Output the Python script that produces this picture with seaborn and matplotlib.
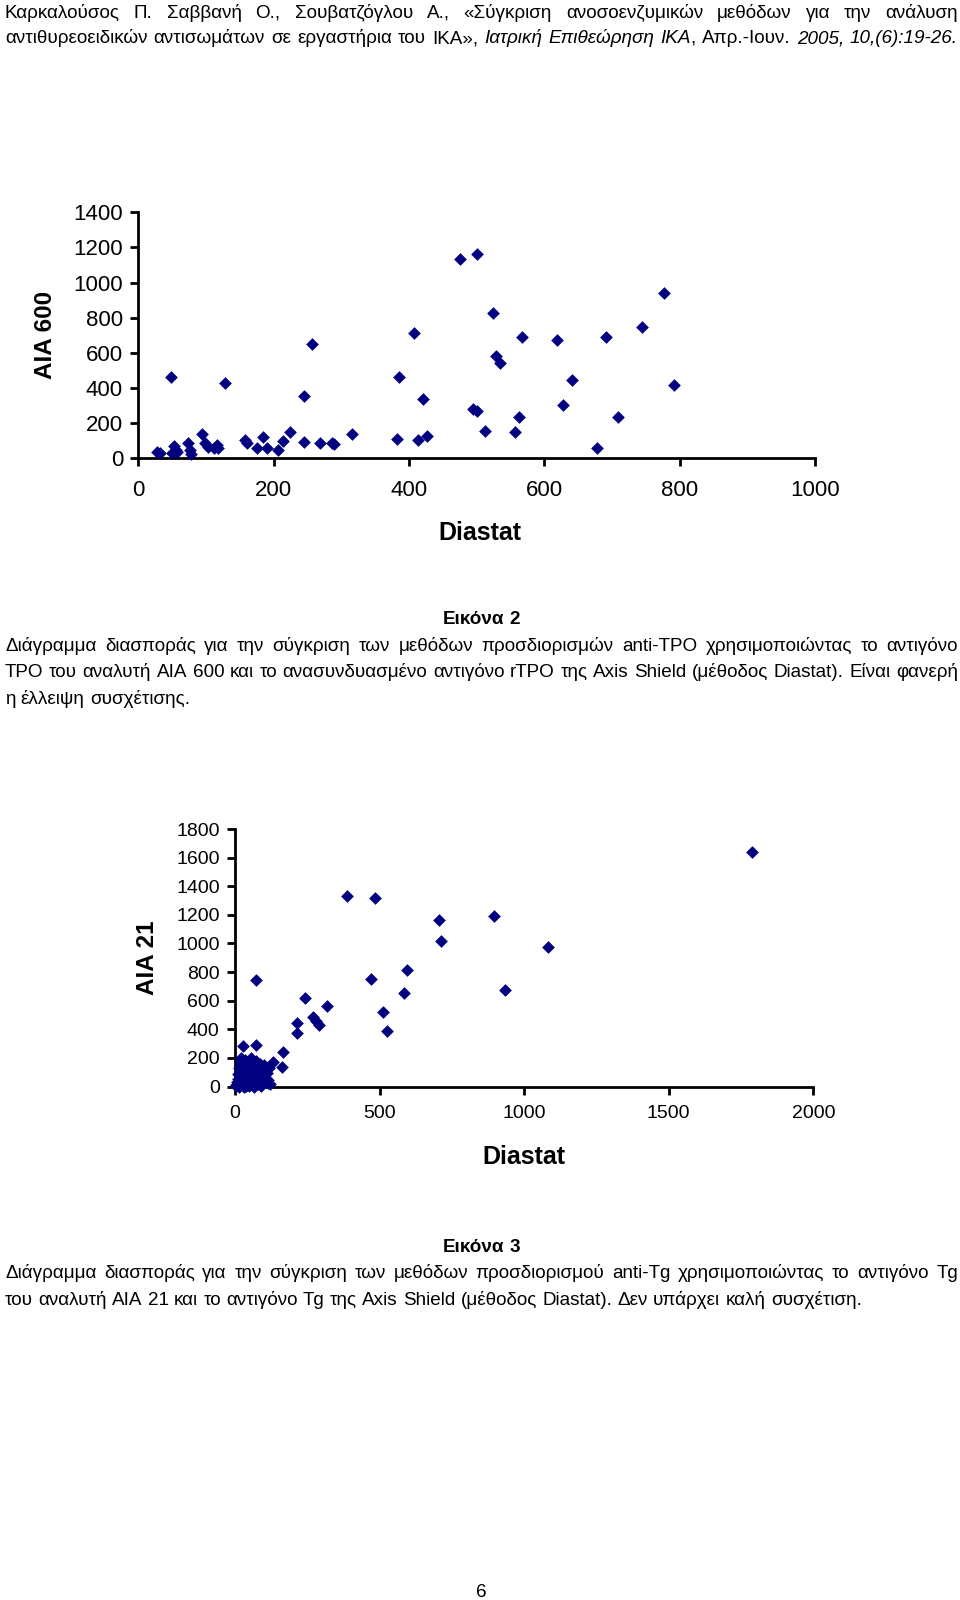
import matplotlib
matplotlib.use("Agg")
import matplotlib.pyplot as plt
import seaborn as sns
from matplotlib import font_manager
from matplotlib.transforms import IdentityTransform

# --- data ---
# Figure 2: anti-TPO, Diastat vs AIA 600
tpo_diastat = [27, 32, 49, 50, 53, 55, 57, 74, 76, 78, 94, 98, 103, 112, 116, 118,
               128, 157, 160, 176, 185, 190, 207, 214, 224, 245, 245, 257, 269, 286,
               289, 316, 383, 385, 408, 413, 420, 427, 476, 494, 500, 501, 513, 524,
               528, 535, 556, 562, 567, 619, 627, 641, 678, 691, 709, 745, 777, 791]
tpo_aia600 = [35, 28, 464, 30, 72, 50, 37, 85, 47, 23, 136, 85, 65, 57, 76, 58,
              427, 104, 85, 57, 123, 60, 47, 100, 148, 356, 95, 650, 85, 85,
              82, 136, 110, 461, 713, 104, 337, 129, 1132, 279, 269, 1161, 155, 829,
              584, 541, 148, 233, 688, 671, 303, 444, 57, 688, 233, 749, 942, 419]

# Figure 3: anti-Tg, Diastat vs AIA 21 (scattered points, then the dense low cluster)
tg_diastat = [386, 484, 707, 896, 712, 596, 469, 73, 586, 934, 242, 317, 511, 527,
              271, 280, 292, 216, 216, 165, 162, 133, 73, 29, 1788, 1084, 110, 115,
              5, 8, 10, 12, 15, 18, 20, 22, 25, 28, 30, 32, 35, 38, 40, 42, 45, 48,
              50, 52, 55, 58, 60, 62, 65, 68, 70, 72, 75, 78, 80, 85, 88, 90, 95,
              100, 105, 110, 115, 120, 3, 14, 30, 50, 65, 90, 100, 118]
tg_aia21 = [1329, 1318, 1166, 1189, 1014, 816, 751, 741, 653, 676, 618, 566, 520, 391,
            485, 461, 431, 443, 377, 240, 139, 174, 291, 284, 1637, 972, 92, 22,
            10, 30, 55, 90, 130, 170, 200, 15, 40, 75, 110, 150, 185, 5, 60, 95, 125,
            20, 165, 45, 200, 80, 10, 140, 110, 35, 60, 180, 95, 15, 130, 50, 160, 25,
            100, 70, 120, 30, 45, 20, 2, 0, 0, 3, 0, 5, 150, 130]

header_lines = [
    "Καρκαλούσος Π. Σαββανή Ο., Σουβατζόγλου Α., «Σύγκριση ανοσοενζυμικών μεθόδων για την ανάλυση",
    "αντιθυρεοειδικών αντισωμάτων σε εργαστήρια του ΙΚΑ», _Ιατρική Επιθεώρηση ΙΚΑ_, Απρ.-Ιουν. _2005, 10,(6):19-26._",
]
caption2_title = "Εικόνα 2"
caption2_lines = [
    "Διάγραμμα διασποράς για την σύγκριση των μεθόδων προσδιορισμών anti-TPO χρησιμοποιώντας το αντιγόνο",
    "TPO του αναλυτή AIA 600 και το ανασυνδυασμένο αντιγόνο rTPO της Axis Shield (μέθοδος Diastat). Είναι φανερή",
    "η έλλειψη συσχέτισης.",
]
caption3_title = "Εικόνα 3"
caption3_lines = [
    "Διάγραμμα διασποράς για την σύγκριση των μεθόδων προσδιορισμού anti-Tg χρησιμοποιώντας το αντιγόνο Tg",
    "του αναλυτή AIA 21 και το αντιγόνο Tg της Axis Shield (μέθοδος Diastat). Δεν υπάρχει καλή συσχέτιση.",
]
page_number = "6"


def have_font(name):
    try:
        font_manager.findfont(font_manager.FontProperties(family=name), fallback_to_default=False)
        return True
    except ValueError:
        return False


sns.set_style("ticks")
plt.rcParams["font.family"] = ["Liberation Sans", "DejaVu Sans"]
plt.rcParams["text.color"] = "black"
plt.rcParams["axes.labelcolor"] = "black"
body_fonts = ["Liberation Sans Narrow" if have_font("Liberation Sans Narrow") else "Liberation Sans",
              "DejaVu Sans"]

W, H = 960, 1600
fig = plt.figure(figsize=(W / 100, H / 100), dpi=100)
fig.patch.set_facecolor("white")
renderer = fig.canvas.get_renderer()
NAVY = "#000080"


def ax_rect(x0, x1, ytop, ybot):
    return [x0 / W, 1 - ybot / H, (x1 - x0) / W, (ybot - ytop) / H]


def scatter_panel(ax, x, y, xmax, xstep, ymax, ystep, tick_fs, xpad, ylabel):
    sns.scatterplot(x=x, y=y, ax=ax, marker="D", color=NAVY, s=42, linewidth=0,
                    clip_on=False, legend=False, zorder=3)
    ax.set_xlim(0, xmax)
    ax.set_ylim(0, ymax)
    ax.set_xticks(range(0, xmax + 1, xstep))
    ax.set_yticks(range(0, ymax + 1, ystep))
    sns.despine(ax=ax)
    for side in ["left", "bottom"]:
        ax.spines[side].set_linewidth(2)
        ax.spines[side].set_color("black")
    ax.tick_params(axis="both", direction="out", length=6, width=2, color="black",
                   labelsize=tick_fs, labelcolor="black")
    ax.tick_params(axis="x", pad=xpad)
    ax.tick_params(axis="y", pad=5)
    ax.set_xlabel("Diastat", fontsize=18, fontweight="bold", color="black")
    ax.set_ylabel(ylabel, fontsize=17.5, fontweight="bold", color="black")
    ax.xaxis.label.set_va("center")
    ax.yaxis.label.set_va("center")


ax1 = fig.add_axes(ax_rect(138.3, 815, 212.3, 458.3))
scatter_panel(ax1, tpo_diastat, tpo_aia600, 1000, 200, 1400, 200, 16, 9.5, "AIA 600")
ax1.xaxis.set_label_coords(0.505, -0.302)
ax1.yaxis.set_label_coords(-0.137, 0.5)

ax2 = fig.add_axes(ax_rect(235, 813.3, 829, 1086.5))
scatter_panel(ax2, tg_diastat, tg_aia21, 2000, 500, 1800, 200, 14, 7, "AIA 21")
ax2.xaxis.set_label_coords(0.5, -0.274)
ax2.yaxis.set_label_coords(-0.152, 0.5)


# --- page text, laid out word by word so full lines can be justified ---
def parse_words(text):
    words, cur, italic = [], [], False
    for i, chunk in enumerate(text.split("_")):
        if i > 0:
            italic = not italic
        for j, part in enumerate(chunk.split(" ")):
            if j > 0:
                words.append(cur)
                cur = []
            if part:
                cur.append((part, italic))
    words.append(cur)
    return [w for w in words if w]


def make_words(text, fs, weight):
    arts, widths = [], []
    for w in parse_words(text):
        pieces = []
        for piece, it in w:
            t = fig.text(0, 0, piece, transform=IdentityTransform(), fontsize=fs,
                         fontweight=weight, fontstyle="italic" if it else "normal",
                         family=body_fonts, va="baseline", ha="left", color="black")
            pieces.append((t, t.get_window_extent(renderer).width))
        arts.append(pieces)
        widths.append(sum(p[1] for p in pieces))
    return arts, widths


def space_width(fs, weight):
    a = fig.text(0, 0, "n n", fontsize=fs, fontweight=weight, family=body_fonts)
    b = fig.text(0, 0, "nn", fontsize=fs, fontweight=weight, family=body_fonts)
    sw = a.get_window_extent(renderer).width - b.get_window_extent(renderer).width
    a.remove()
    b.remove()
    return sw


def natural_width(text, fs, weight="normal"):
    arts, widths = make_words(text, fs, weight)
    for pieces in arts:
        for t, _ in pieces:
            t.remove()
    return sum(widths) + space_width(fs, weight) * (len(widths) - 1)


def draw_line(text, baseline, fs, justify=False, weight="normal", center=None, x0=5, x1=958):
    arts, widths = make_words(text, fs, weight)
    total = sum(widths)
    if justify and len(widths) > 1:
        gap = (x1 - x0 - total) / (len(widths) - 1)
    else:
        gap = space_width(fs, weight)
    start = x0 if center is None else center - (total + gap * (len(widths) - 1)) / 2
    x = start
    for pieces in arts:
        for t, pw in pieces:
            t.set_position((x, H - baseline))
            x += pw
        x += gap


# size the body font so the last caption line has the width it has on the page
body_fs = 10 * 862 / natural_width(caption3_lines[1], 10)

draw_line(header_lines[0], 18, body_fs, justify=True)
draw_line(header_lines[1], 43, body_fs, justify=True)

draw_line(caption2_title, 624, body_fs, weight="bold", center=481)
draw_line(caption2_lines[0], 651, body_fs, justify=True)
draw_line(caption2_lines[1], 677, body_fs, justify=True)
draw_line(caption2_lines[2], 704, body_fs)

draw_line(caption3_title, 1252, body_fs, weight="bold", center=481)
draw_line(caption3_lines[0], 1278, body_fs, justify=True)
draw_line(caption3_lines[1], 1305, body_fs)

draw_line(page_number, 1597, body_fs, center=481)

fig.savefig("out.png", dpi=100, facecolor="white")
